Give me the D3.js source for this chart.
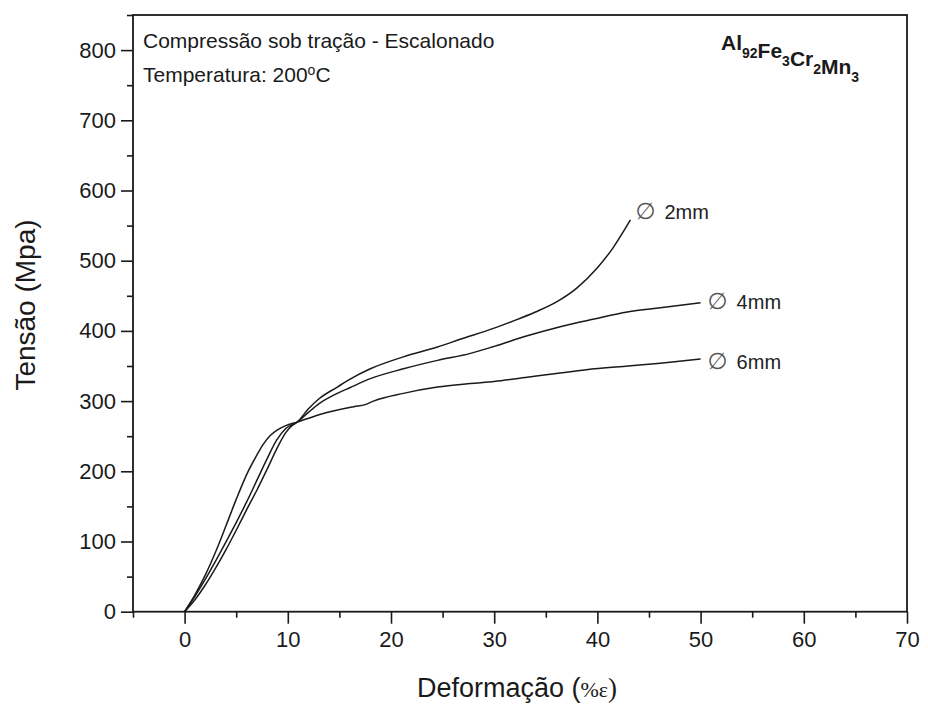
<!DOCTYPE html>
<html>
<head>
<meta charset="utf-8">
<script src="https://cdn.jsdelivr.net/npm/d3@7"></script>
<style>
  body { margin: 0; background: #fff; }
  svg { display: block; font-family: "Liberation Sans", Arial, sans-serif; }
</style>
</head>
<body>
<svg id="chart" width="928" height="704"></svg>
<script>
// strain (%) and stress (MPa)
const strain2mm = [0, 1, 2, 3, 4, 5, 6, 7, 8, 9, 9.8, 10.4, 10.9, 12, 13, 14.8, 16, 18, 21.2, 24.5, 26.7, 30, 32, 34, 36, 38, 40, 41.5, 43.2]
const stress2mm = [0, 17, 38, 62, 88, 116, 145, 173, 203, 234, 255, 265, 270, 289, 303, 320, 331, 346, 363, 377, 388, 404, 415, 427, 441, 461, 490, 518, 558]

const strain4mm = [0, 1, 2, 3, 4, 5, 6, 7, 8, 8.9, 9.8, 10.9, 12, 13, 14.8, 16, 18, 21.2, 24.5, 27.7, 30, 33.2, 36.4, 39.7, 42.9, 46.1, 50]
const stress4mm = [0, 22, 46, 72, 99, 127, 156, 187, 218, 244, 261, 270, 284, 296, 311, 319, 332, 346, 358, 368, 378, 393, 406, 417, 427, 433, 440]

const strain6mm = [0, 1, 2, 3, 4, 5, 6, 7, 7.6, 8.3, 9, 9.8, 10.9, 13.1, 16.4, 17.5, 18.3, 21.2, 24.5, 27.7, 30, 33.2, 36.4, 39.7, 43, 46.1, 50]
const stress6mm = [0, 24, 52, 85, 122, 160, 195, 223, 238, 251, 259, 265, 270, 281, 292, 295, 300, 311, 320, 325, 328, 334, 340, 346, 350, 354, 360]

const seriesNames = ['2mm', '4mm', '6mm']
const xTicks = [0, 10, 20, 30, 40, 50, 60, 70]
const yTicks = [0, 100, 200, 300, 400, 500, 600, 700, 800]

const series = [
  {name: seriesNames[0], x: strain2mm, y: stress2mm, dx: 15, dy: -9},
  {name: seriesNames[1], x: strain4mm, y: stress4mm, dx: 17, dy: -2},
  {name: seriesNames[2], x: strain6mm, y: stress6mm, dx: 17, dy: 2}
]

const svg = d3.select('#chart')
const margin = {left: 133, right: 907, top: 15, bottom: 611.7}

const x = d3.scaleLinear().domain([-5, 70]).range([margin.left, margin.right])
const y = d3.scaleLinear().domain([0, 850]).range([margin.bottom, margin.top])

const ink = '#1a1a1a'

// minor ticks first
svg.append('g')
  .attr('transform', 'translate(0,' + margin.bottom + ')')
  .call(d3.axisBottom(x).tickValues(d3.range(-5, 71, 10)).tickSize(6).tickFormat(''))
svg.append('g')
  .attr('transform', 'translate(' + margin.left + ',0)')
  .call(d3.axisLeft(y).tickValues(d3.range(50, 851, 100)).tickSize(6).tickFormat(''))

// major ticks
svg.append('g')
  .attr('transform', 'translate(0,' + margin.bottom + ')')
  .call(d3.axisBottom(x).tickValues(xTicks).tickSize(12).tickPadding(8))
svg.append('g')
  .attr('transform', 'translate(' + margin.left + ',0)')
  .call(d3.axisLeft(y).tickValues(yTicks).tickSize(12).tickPadding(5))

svg.selectAll('.domain').remove()
svg.selectAll('.tick line').attr('stroke', ink).attr('stroke-width', 1.6)
svg.selectAll('.tick text')
  .attr('fill', ink)
  .style('font-family', '"Liberation Sans", Arial, sans-serif')
  .style('font-size', '22px')

// frame
svg.append('rect')
  .attr('x', margin.left).attr('y', margin.top)
  .attr('width', margin.right - margin.left).attr('height', margin.bottom - margin.top)
  .attr('fill', 'none').attr('stroke', ink).attr('stroke-width', 1.8)

// curves
const line = d3.line()
  .x(d => x(d[0]))
  .y(d => y(d[1]))
  .curve(d3.curveMonotoneX)

series.forEach(s => {
  const pts = s.x.map((v, i) => [v, s.y[i]])
  svg.append('path')
    .datum(pts)
    .attr('d', line)
    .attr('fill', 'none')
    .attr('stroke', ink)
    .attr('stroke-width', 1.5)

  const last = pts[pts.length - 1]
  const cx = x(last[0]) + s.dx
  const cy = y(last[1]) + s.dy
  svg.append('text')
    .attr('x', cx).attr('y', cy + 8)
    .attr('text-anchor', 'middle')
    .attr('fill', '#555')
    .style('font-family', '"DejaVu Sans", sans-serif')
    .style('font-size', '23px')
    .text('∅')
  svg.append('text')
    .attr('x', cx + 19).attr('y', cy + 8)
    .attr('fill', '#222')
    .style('font-size', '20px')
    .text(s.name)
})

// annotations
svg.append('text')
  .attr('x', 143).attr('y', 48)
  .attr('fill', ink)
  .style('font-size', '21px')
  .text('Compressão sob tração - Escalonado')

const temp = svg.append('text')
  .attr('x', 143).attr('y', 82)
  .attr('fill', ink)
  .style('font-size', '21px')
temp.append('tspan').text('Temperatura: 200')
temp.append('tspan').attr('dy', -7).style('font-size', '14px').text('o')
temp.append('tspan').attr('dy', 7).text('C')

const formula = svg.append('text')
  .attr('x', 721).attr('y', 50)
  .attr('fill', ink)
  .style('font-size', '21px')
  .style('font-weight', 'bold')
const parts = [['Al', '92'], ['Fe', '3'], ['Cr', '2'], ['Mn', '3']]
parts.forEach(p => {
  formula.append('tspan').text(p[0])
  formula.append('tspan').attr('dy', 8).style('font-size', '14px').text(p[1])
  formula.append('tspan').attr('dy', -8).text('')
})

// axis titles
svg.append('text')
  .attr('transform', 'translate(35,305) rotate(-90)')
  .attr('text-anchor', 'middle')
  .attr('fill', ink)
  .style('font-size', '28px')
  .text('Tensão (Mpa)')

const xt = svg.append('text')
  .attr('x', 517).attr('y', 697)
  .attr('text-anchor', 'middle')
  .attr('fill', ink)
  .style('font-size', '27px')
xt.append('tspan').text('Deformação (')
xt.append('tspan').style('font-family', '"Liberation Serif", serif').style('font-size', '22px').text('%ε')
xt.append('tspan').style('font-family', '"Liberation Serif", serif').text(')')
</script>
</body>
</html>
